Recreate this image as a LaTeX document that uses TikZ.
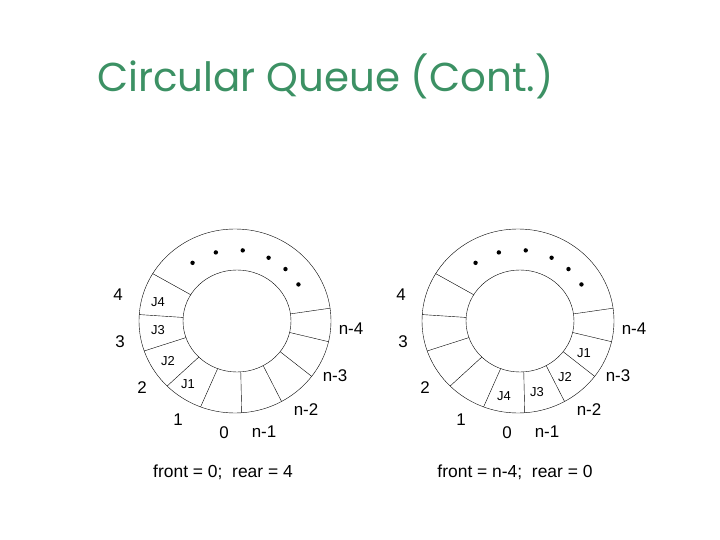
\documentclass[tikz,border=0pt]{standalone}
\usepackage{fontspec}
\setmainfont{Liberation Sans}
\newfontfamily\titlefont{Poppins}
\usetikzlibrary{calc}
\definecolor{titlegreen}{RGB}{60,145,100}

\begin{document}
\begin{tikzpicture}[x=1bp, y=1bp,
		idxlabel/.style={inner sep=0pt, font=\fontsize{17}{20}\selectfont},
		joblabel/.style={inner sep=0pt, font=\fontsize{13}{15}\selectfont},
		caption/.style={inner sep=0pt, font=\fontsize{17.5}{20}\selectfont}]
	\useasboundingbox (0,0) rectangle (720,-540);
	\node[anchor=base west, inner sep=0pt, text=titlegreen, font=\titlefont\fontsize{40.5}{46}\selectfont] (title) at (97,-92) {Circular Queue (Cont.)};
	% left queue: front = 0, rear = 4
	\begin{scope}[shift={(235,-321)}]
		\draw (0,0) ellipse [x radius=96, y radius=92];
		\draw (2,0) ellipse [x radius=54, y radius=51];
		\foreach \a in {149,176,199,225,249,274,299,323,347,8}
			\draw ($(2,0)+(\a:54 and 51)$) -- (\a:96 and 92);
		\foreach \a in {125,105,84,63,47,31}
			\fill (\a:74 and 71) circle (2.2);
		\node[idxlabel] (L4) at (-117,26) {4};
		\node[idxlabel] (L3) at (-115,-21) {3};
		\node[idxlabel] (L2) at (-93,-67) {2};
		\node[idxlabel] (L1) at (-57,-99) {1};
		\node[idxlabel] (L0) at (-11,-112) {0};
		\node[idxlabel] (Ln1) at (29,-111) {n-1};
		\node[idxlabel] (Ln2) at (71,-89) {n-2};
		\node[idxlabel] (Ln3) at (100,-55) {n-3};
		\node[idxlabel] (Ln4) at (116,-8) {n-4};
		\node[joblabel] (LJ4) at (-77,19) {J4};
		\node[joblabel] (LJ3) at (-77,-9) {J3};
		\node[joblabel] (LJ2) at (-67,-40) {J2};
		\node[joblabel] (LJ1) at (-47,-63) {J1};
		\node[caption] (Lcap) at (-12,-151) {front = 0;\ \ rear = 4};
	\end{scope}
	% right queue: front = n-4, rear = 0
	\begin{scope}[shift={(518,-321)}]
		\draw (0,0) ellipse [x radius=96, y radius=92];
		\draw (2,0) ellipse [x radius=54, y radius=51];
		\foreach \a in {149,176,199,225,249,274,299,323,347,8}
			\draw ($(2,0)+(\a:54 and 51)$) -- (\a:96 and 92);
		\foreach \a in {125,105,84,63,47,31}
			\fill (\a:74 and 71) circle (2.2);
		\node[idxlabel] (R4) at (-117,26) {4};
		\node[idxlabel] (R3) at (-115,-21) {3};
		\node[idxlabel] (R2) at (-93,-67) {2};
		\node[idxlabel] (R1) at (-57,-99) {1};
		\node[idxlabel] (R0) at (-11,-112) {0};
		\node[idxlabel] (Rn1) at (29,-111) {n-1};
		\node[idxlabel] (Rn2) at (71,-89) {n-2};
		\node[idxlabel] (Rn3) at (100,-55) {n-3};
		\node[idxlabel] (Rn4) at (116,-8) {n-4};
		\node[joblabel] (RJ4) at (-14,-75) {J4};
		\node[joblabel] (RJ3) at (19,-71) {J3};
		\node[joblabel] (RJ2) at (47,-56) {J2};
		\node[joblabel] (RJ1) at (66,-32) {J1};
		\node[caption] (Rcap) at (-3,-151) {front = n-4;\ \ rear = 0};
	\end{scope}
\end{tikzpicture}
\end{document}
